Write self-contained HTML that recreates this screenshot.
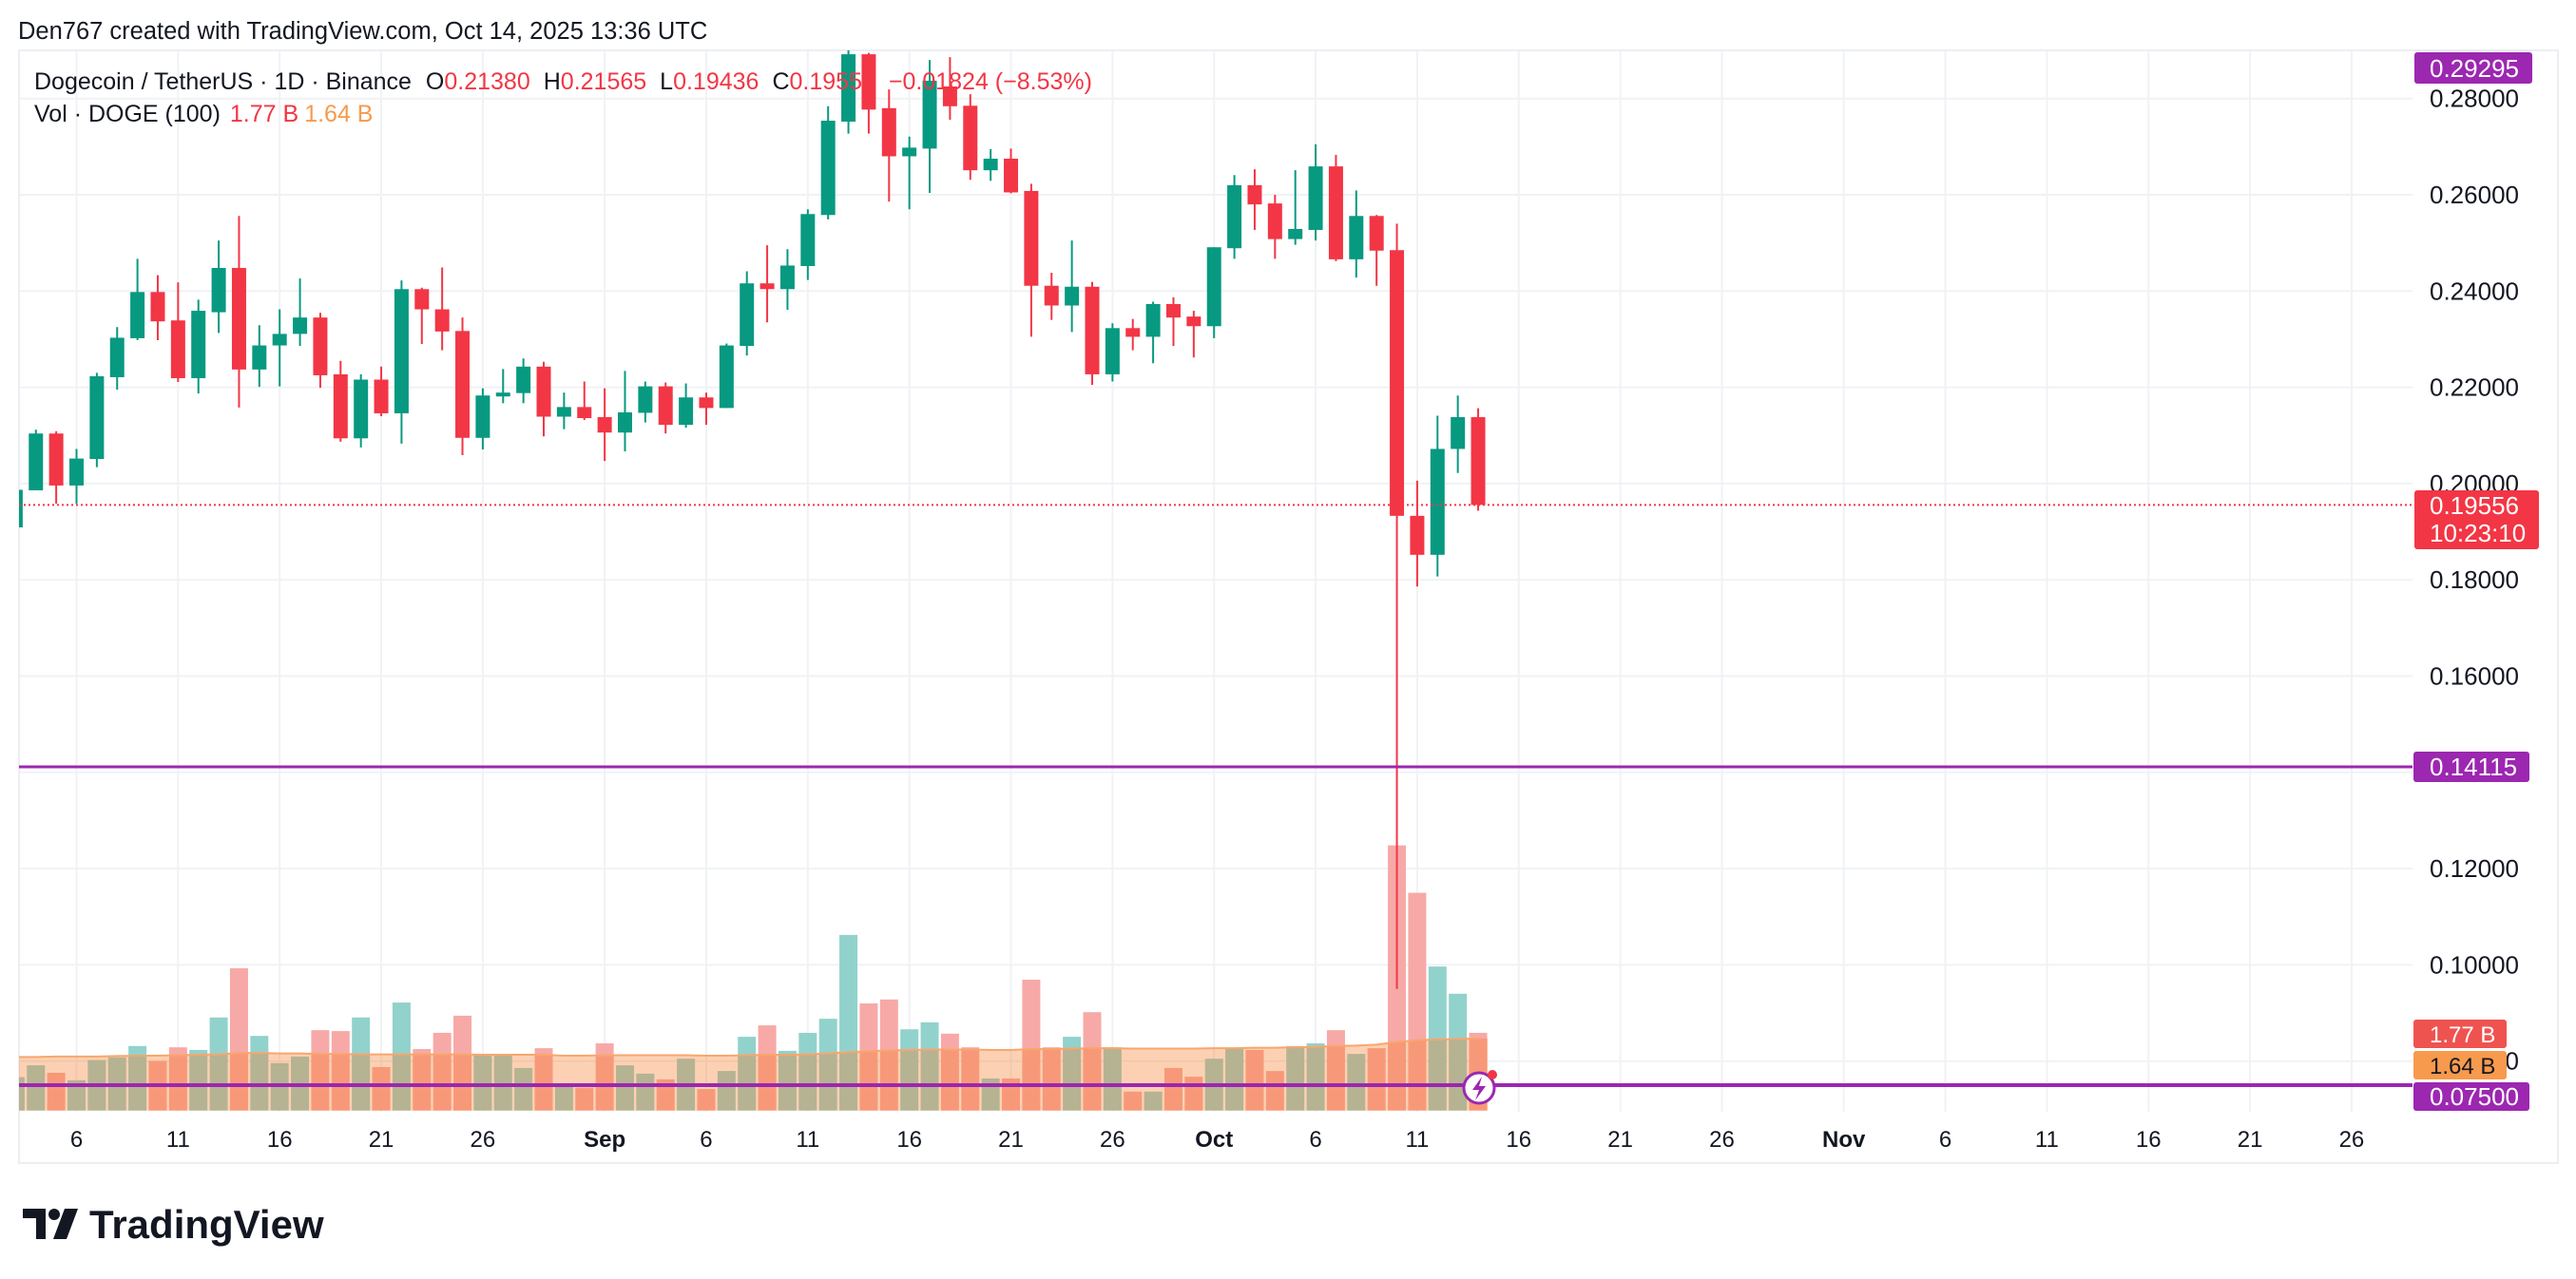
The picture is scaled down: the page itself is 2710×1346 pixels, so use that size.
<!DOCTYPE html>
<html><head><meta charset="utf-8"><style>
html,body{margin:0;padding:0;background:#fff;}
svg{display:block;font-family:"Liberation Sans",sans-serif;}
</style></head><body>
<svg id="chart" width="2710" height="1346" viewBox="0 0 2710 1346" xmlns="http://www.w3.org/2000/svg">
<rect x="0" y="0" width="2710" height="1346" fill="#fff"/>
<g id="grid"></g>
<g id="volumes"></g>
<g id="candles"></g>
<g id="overlay"></g>
<g id="axes"></g>
</svg>
<script>
const NS="http://www.w3.org/2000/svg";
// Data: Aug 3 .. Oct 14 2025 (day index relative to Aug 6 starts at -3)
const startIndex=-3;
const opens=[0.1909,0.1986,0.2104,0.1996,0.2051,0.2221,0.2302,0.2398,0.2339,0.2219,0.2356,0.2448,0.2237,0.2287,0.2311,0.2345,0.2227,0.2094,0.2216,0.2146,0.2404,0.2362,0.2317,0.2095,0.2181,0.2188,0.2243,0.2139,0.2159,
0.2138,0.2106,0.2147,0.2202,0.2122,0.2179,0.2157,0.2286,0.2416,0.2404,0.2452,0.2558,0.2752,0.2892,0.2780,0.2680,0.2696,0.2825,0.2785,0.2651,0.2675,0.2608,0.2411,0.2370,0.2409,0.2227,0.2323,0.2305,0.2373,0.2347,
0.2327,0.2489,0.2620,0.2582,0.2508,0.2527,0.2659,0.2466,0.2556,0.2485,0.1933,0.1852,0.2072,0.2138];
const closes=[0.1987,0.2104,0.1996,0.2052,0.2223,0.2303,0.2398,0.2337,0.2219,0.2359,0.2448,0.2237,0.2287,0.2311,0.2345,0.2225,0.2094,0.2216,0.2146,0.2404,0.2362,0.2316,0.2095,0.2183,0.2189,0.2243,0.2139,0.2159,0.2136,
0.2106,0.2148,0.2202,0.2122,0.2179,0.2157,0.2287,0.2416,0.2404,0.2453,0.2560,0.2754,0.2892,0.2777,0.2680,0.2698,0.2837,0.2784,0.2651,0.2675,0.2605,0.2411,0.2370,0.2409,0.2227,0.2323,0.2305,0.2373,0.2345,0.2327,
0.2491,0.2620,0.2580,0.2508,0.2529,0.2659,0.2466,0.2556,0.2484,0.1933,0.1852,0.2072,0.2138,0.19556];
const highs=[0.1990,0.2112,0.2109,0.2072,0.2230,0.2325,0.2467,0.2433,0.2418,0.2382,0.2505,0.2556,0.2329,0.2362,0.2426,0.2355,0.2255,0.2227,0.2243,0.2422,0.2407,0.2449,0.2345,0.2198,0.2238,0.2260,0.2253,0.2189,0.2212,
0.2198,0.2234,0.2212,0.2210,0.2208,0.2189,0.2291,0.2441,0.2495,0.2487,0.2570,0.2784,0.29295,0.2895,0.2819,0.2721,0.2880,0.2886,0.2809,0.2695,0.2696,0.2623,0.2438,0.2505,0.2419,0.2333,0.2342,0.2378,0.2387,0.2359,
0.2491,0.2641,0.2653,0.2600,0.2651,0.2705,0.2683,0.2609,0.2558,0.2540,0.2006,0.2141,0.2183,0.21565];
const lows=[0.1905,0.1986,0.1958,0.1958,0.2034,0.2195,0.2298,0.2298,0.2211,0.2187,0.2313,0.2158,0.2201,0.2202,0.2286,0.2199,0.2087,0.2075,0.2140,0.2083,0.2290,0.2277,0.2059,0.2071,0.2167,0.2167,0.2098,0.2113,0.2132,
0.2047,0.2067,0.2127,0.2104,0.2116,0.2122,0.2157,0.2266,0.2335,0.2361,0.2423,0.2549,0.2727,0.2727,0.2586,0.2570,0.2604,0.2756,0.2631,0.2629,0.2603,0.2305,0.2340,0.2315,0.2205,0.2212,0.2277,0.2250,0.2286,0.2262,
0.2302,0.2467,0.2527,0.2467,0.2496,0.2505,0.2462,0.2428,0.2411,0.0950,0.1786,0.1807,0.2022,0.19436];
const volumes=[0.76,1.03,0.86,0.69,1.15,1.21,1.47,1.13,1.44,1.38,2.12,3.24,1.70,1.08,1.23,1.83,1.81,2.12,0.99,2.46,1.40,1.77,2.16,1.26,1.29,0.97,1.42,0.62,0.52,
1.53,1.03,0.84,0.71,1.18,0.49,0.90,1.68,1.94,1.36,1.77,2.09,4.00,2.44,2.53,1.85,2.01,1.75,1.44,0.73,0.73,2.98,1.44,1.68,2.24,1.44,0.43,0.43,0.97,0.77,
1.18,1.40,1.38,0.90,1.47,1.53,1.83,1.29,1.42,6.04,4.96,3.28,2.66,1.77];
const volMA=[1.22,1.22,1.23,1.23,1.23,1.24,1.25,1.25,1.26,1.27,1.28,1.31,1.31,1.30,1.30,1.29,1.29,1.28,1.28,1.28,1.28,1.28,1.28,1.27,1.27,1.27,1.27,1.25,1.25,
1.26,1.26,1.26,1.26,1.26,1.25,1.25,1.26,1.27,1.27,1.28,1.30,1.33,1.35,1.37,1.38,1.39,1.39,1.39,1.38,1.38,1.40,1.40,1.41,1.42,1.42,1.41,1.41,1.41,1.41,
1.42,1.42,1.43,1.43,1.44,1.45,1.47,1.48,1.50,1.56,1.60,1.62,1.63,1.64];
const priceTicks=[0.28,0.26,0.24,0.22,0.20,0.18,0.16,0.14,0.12,0.10,0.08];
const timeTickDays=[0,5,10,15,20,26,31,36,41,46,51,56,61,66,71,76,81,87,92,97,102,107,112];
const timeTickLabels=["6","11","16","21","26","Sep","6","11","16","21","26","Oct","6","11","16","21","26","Nov","6","11","16","21","26"];
const lastPrice=0.19556, supportLevel=0.14115, lowLevel=0.075, highLevel=0.29295;

// axis functions
const PL=20, PR=2538, PT=53, PB=1170;
function xDay(d){return 80.5+d*21.37;}
function yP(p){return 103.7+(0.28-p)*5065;}
function yV(v){return 1168.7-v*46.2;}
function mk(tag,attrs,parent){const e=document.createElementNS(NS,tag);for(const k in attrs)e.setAttribute(k,attrs[k]);parent.appendChild(e);return e;}
const G=id=>document.getElementById(id);
const GREEN="#089981", RED="#f23645";

const grid=G('grid');
for(let i=0;i<priceTicks.length;i++){
  const l=mk('line',{x1:PL,x2:PR,y1:yP(priceTicks[i]),y2:yP(priceTicks[i]),stroke:"#f0f2f5","stroke-width":2},grid);
  
  
}
for(let i=0;i<timeTickDays.length;i++){
  const x=xDay(timeTickDays[i]);
  const l=mk('line',{x1:x,x2:x,y1:PT,y2:PB,stroke:"#f0f2f5","stroke-width":2},grid);
  
  
}
const fr=mk('rect',{x:PL,y:PT,width:2691-PL,height:1224-PT,fill:"none",stroke:"#eceef2","stroke-width":2},grid);



const defs=mk('defs',{},G('chart'));
const cp=mk('clipPath',{id:'plotclip'},defs);
mk('rect',{x:PL,y:PT,width:PR-PL,height:PB-PT},cp);
G('volumes').setAttribute('clip-path','url(#plotclip)');
G('candles').setAttribute('clip-path','url(#plotclip)');

const vg=G('volumes');
for(let i=0;i<volumes.length;i++){
  const x=xDay(startIndex+i), up=closes[i]>=opens[i];
  const r=mk('rect',{x:x-9.5,y:yV(volumes[i]),width:19,height:yV(0)-yV(volumes[i]),fill:up?"#92d2cc":"#f7a9a7"},vg);
  
  
}
let areaD="M"+(xDay(startIndex)-12)+" "+yV(0);
let lineD="";
for(let i=0;i<volMA.length;i++){
  const x=xDay(startIndex+i);
  areaD+=" L"+x+" "+yV(volMA[i]);
  lineD+=(i?" L":"M")+x+" "+yV(volMA[i]);
}
areaD+=" L"+(xDay(startIndex+volMA.length-1)+10)+" "+yV(volMA[volMA.length-1])+" L"+(xDay(startIndex+volMA.length-1)+10)+" "+yV(0)+" Z";
const ar=mk('path',{d:areaD,fill:"rgba(247,124,38,0.35)"},vg);


const ml=mk('path',{d:lineD,fill:"none",stroke:"#f9a66c","stroke-width":2},vg);



const cg=G('candles');
for(let i=0;i<opens.length;i++){
  const x=xDay(startIndex+i), up=closes[i]>=opens[i], c=up?GREEN:RED;
  const w=mk('line',{x1:x,x2:x,y1:yP(highs[i]),y2:yP(lows[i]),stroke:c,"stroke-width":2},cg);
  
  
  const t=Math.min(yP(opens[i]),yP(closes[i])), h=Math.max(2,Math.abs(yP(opens[i])-yP(closes[i])));
  const b=mk('rect',{x:x-7.5,y:t,width:15,height:h,fill:c},cg);
  
  
}

const og=G('overlay');
const cur=mk('line',{x1:PL,x2:PR,y1:yP(lastPrice),y2:yP(lastPrice),stroke:RED,"stroke-width":2,"stroke-dasharray":"2 3"},og);


const sup=mk('line',{x1:PL,x2:PR,y1:yP(supportLevel),y2:yP(supportLevel),stroke:"#9c27b0","stroke-width":3},og);


const low=mk('line',{x1:PL,x2:PR,y1:yP(lowLevel),y2:yP(lowLevel),stroke:"#9c27b0","stroke-width":4},og);


</script>
<script>
(function(){
const ax=G('axes');
function txt(s,x,y,attrs,name,inter){const t=mk('text',Object.assign({x:x,y:y},attrs),ax);t.textContent=s;return t;}
for(let i=0;i<priceTicks.length;i++){
  txt(priceTicks[i].toFixed(5),2556,yP(priceTicks[i])+9,{"font-size":26,fill:"#131722"},'price-tick-label',false);
}
for(let i=0;i<timeTickDays.length;i++){
  const bold=isNaN(+timeTickLabels[i]);
  txt(timeTickLabels[i],xDay(timeTickDays[i]),1207,{"font-size":24,fill:"#131722","text-anchor":"middle","font-weight":bold?"bold":"normal"},'time-tick-label',false);
}
function box(x,y,w,h,fill,name){const r=mk('rect',{x:x,y:y,width:w,height:h,rx:3,fill:fill},ax);}
box(2540,55,124,33,"#9c27b0",'high-price-box');
txt(highLevel.toFixed(5),2556,81,{"font-size":26,fill:"#fff"},'high-price-label',false);
box(2540,516,131,62,RED,'last-price-box');
txt(lastPrice.toFixed(5),2556,541,{"font-size":26,fill:"#fff"},'last-price-label',false);
txt("10:23:10",2556,570,{"font-size":26,fill:"#fff"},'countdown-label',false);
box(2539,yP(supportLevel)-16,122,32,"#9c27b0",'support-price-box');
txt(supportLevel.toFixed(5),2556,yP(supportLevel)+9,{"font-size":26,fill:"#fff"},'support-price-label',false);
box(2539,1073,98,30,"#ef5350",'volume-box');
txt("1.77 B",2556,1097,{"font-size":24,fill:"#fff"},'volume-label',false);
box(2539,1106,98,30,"#f79a4d",'volume-ma-box');
txt("1.64 B",2556,1130,{"font-size":24,fill:"#131722"},'volume-ma-label',false);
box(2539,1139,122,30,"#9c27b0",'low-price-box');
txt("0.07500",2556,1163,{"font-size":26,fill:"#fff"},'low-price-label',false);

txt("Den767 created with TradingView.com, Oct 14, 2025 13:36 UTC",19,41,{"font-size":25.5,fill:"#131722"},'header-credit',false);
const lg=mk('text',{x:36,y:94,"font-size":25,fill:"#131722"},ax);


lg.innerHTML='Dogecoin / TetherUS · 1D · Binance  <tspan dx="8">O</tspan><tspan fill="#f23645">0.21380</tspan><tspan dx="14">H</tspan><tspan fill="#f23645">0.21565</tspan><tspan dx="14">L</tspan><tspan fill="#f23645">0.19436</tspan><tspan dx="14">C</tspan><tspan fill="#f23645">0.19556</tspan><tspan dx="14" fill="#f23645">−0.01824 (−8.53%)</tspan>';
const vl=mk('text',{x:36,y:128,"font-size":25,fill:"#131722"},ax);


vl.innerHTML='Vol · DOGE (100)<tspan dx="10" fill="#f23645">1.77 B</tspan><tspan dx="6" fill="#f79a4d">1.64 B</tspan>';

const ic=mk('g',{},ax);


mk('circle',{cx:1556,cy:1145,r:16,fill:"#fff",stroke:"#9c27b0","stroke-width":3},ic);
mk('path',{d:"M1559 1133 L1549 1147 L1556 1147 L1552 1158 L1563 1143 L1556 1143 Z",fill:"#9c27b0"},ic);
mk('circle',{cx:1570,cy:1131,r:5,fill:"#f23645"},ic);

const lo=mk('g',{},ax);


mk('path',{d:"M24 1272 H48 V1304 H38 V1282 H24 Z",fill:"#131722"},lo);
mk('circle',{cx:57,cy:1278,r:6,fill:"#131722"},lo);
mk('path',{d:"M68 1272 H82 L70 1304 H56 Z",fill:"#131722"},lo);
txt("TradingView",94,1303,{"font-size":42,"font-weight":"bold",fill:"#131722"},'tradingview-wordmark',false);
})();
</script>
</body></html>
